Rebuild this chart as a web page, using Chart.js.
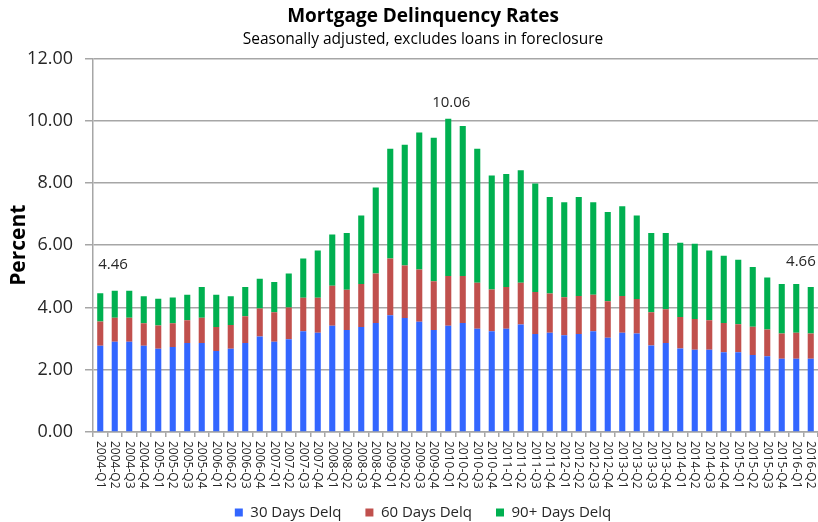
<!DOCTYPE html>
<html><head><meta charset="utf-8">
<script src="https://cdn.jsdelivr.net/npm/chart.js@4.4.1/dist/chart.umd.min.js"></script>
<style>html,body{margin:0;padding:0;background:#fff;}#wrap{width:818px;height:522px;}</style>
</head><body><div id="wrap"><canvas id="c" width="818" height="522"></canvas></div>
<script>
const quarters = [
 "2004-Q1","2004-Q2","2004-Q3","2004-Q4","2005-Q1","2005-Q2","2005-Q3","2005-Q4",
 "2006-Q1","2006-Q2","2006-Q3","2006-Q4","2007-Q1","2007-Q2","2007-Q3","2007-Q4",
 "2008-Q1","2008-Q2","2008-Q3","2008-Q4","2009-Q1","2009-Q2","2009-Q3","2009-Q4",
 "2010-Q1","2010-Q2","2010-Q3","2010-Q4","2011-Q1","2011-Q2","2011-Q3","2011-Q4",
 "2012-Q1","2012-Q2","2012-Q3","2012-Q4","2013-Q1","2013-Q2","2013-Q3","2013-Q4",
 "2014-Q1","2014-Q2","2014-Q3","2014-Q4","2015-Q1","2015-Q2","2015-Q3","2015-Q4",
 "2016-Q1","2016-Q2"];
const delq30 = [2.77,2.90,2.90,2.77,2.67,2.73,2.86,2.86,2.60,2.67,2.86,3.07,2.90,2.98,3.24,3.19,3.41,3.28,3.37,3.50,3.75,3.66,3.54,3.28,3.41,3.50,3.32,3.24,3.32,3.45,3.15,3.19,3.11,3.15,3.24,3.03,3.19,3.16,2.78,2.86,2.68,2.64,2.64,2.56,2.56,2.47,2.43,2.35,2.35,2.35];
const delq60 = [0.78,0.77,0.77,0.72,0.75,0.76,0.73,0.81,0.77,0.77,0.86,0.90,0.95,1.02,1.07,1.12,1.29,1.29,1.38,1.59,1.82,1.69,1.68,1.56,1.60,1.51,1.47,1.34,1.34,1.34,1.35,1.26,1.22,1.22,1.17,1.17,1.18,1.11,1.07,1.08,1.01,0.99,0.95,0.94,0.90,0.91,0.86,0.81,0.84,0.81];
const delq90 = [0.91,0.87,0.87,0.87,0.86,0.83,0.82,0.99,1.04,0.92,0.94,0.95,0.97,1.09,1.26,1.52,1.64,1.82,2.20,2.76,3.53,3.88,4.40,4.61,5.05,4.82,4.31,3.66,3.63,3.62,3.48,3.10,3.05,3.18,2.97,2.87,2.88,2.68,2.54,2.45,2.39,2.42,2.24,2.16,2.07,1.92,1.67,1.59,1.56,1.50];
const seriesNames = ["30 Days Delq","60 Days Delq","90+ Days Delq"];
const yTicks = [0,2,4,6,8,10,12];
const annotatedQuarters = ["2004-Q1","2010-Q1","2016-Q2"];

const FONT = '"Open Sans", sans-serif';
const GRID = '#a6a6a6';
const TEXT = '#262626';

const xLabelPlugin = {
  id: 'xLabels',
  afterDraw(chart) {
    const xs = chart.scales.x, ctx = chart.ctx;
    ctx.save();
    ctx.font = '12px ' + FONT;
    ctx.fillStyle = TEXT;
    ctx.textAlign = 'left';
    ctx.textBaseline = 'middle';
    quarters.forEach((q, i) => {
      ctx.save();
      ctx.translate(xs.getPixelForTick(i), xs.top + 9);
      ctx.rotate(Math.PI / 2);
      ctx.fillText(q, 0, 0);
      ctx.restore();
    });
    ctx.restore();
  }
};

const totalLabelPlugin = {
  id: 'totals',
  afterDatasetsDraw(chart) {
    const xs = chart.scales.x, ys = chart.scales.y, ctx = chart.ctx;
    const place = [
      {align: 'left', dx: -2, dy: -28},
      {align: 'center', dx: 3, dy: -16},
      {align: 'right', dx: 5, dy: -25}
    ];
    ctx.save();
    ctx.font = '15px ' + FONT;
    ctx.fillStyle = TEXT;
    ctx.textBaseline = 'middle';
    annotatedQuarters.forEach((q, k) => {
      const i = quarters.indexOf(q);
      const total = delq30[i] + delq60[i] + delq90[i];
      const p = place[k];
      ctx.textAlign = p.align;
      ctx.fillText(total.toFixed(2), xs.getPixelForValue(i) + p.dx, ys.getPixelForValue(total) + p.dy);
    });
    ctx.restore();
  }
};

new Chart(document.getElementById('c'), {
  type: 'bar',
  data: {
    labels: quarters,
    datasets: [
      {label: seriesNames[0], data: delq30, backgroundColor: '#3366ff'},
      {label: seriesNames[1], data: delq60, backgroundColor: '#c0504d'},
      {label: seriesNames[2], data: delq90, backgroundColor: '#00b050'}
    ]
  },
  options: {
    responsive: false,
    devicePixelRatio: 1,
    animation: false,
    datasets: {bar: {categoryPercentage: 1, barPercentage: 0.42}},
    layout: {padding: {left: 28, right: 0, top: 0, bottom: -8}},
    plugins: {
      tooltip: {enabled: false},
      title: {
        display: true, text: 'Mortgage Delinquency Rates', color: '#000',
        font: {family: FONT, size: 19, weight: 'bold'}, padding: {top: 5, bottom: 0}
      },
      subtitle: {
        display: true, text: 'Seasonally adjusted, excludes loans in foreclosure', color: '#000',
        font: {family: FONT, size: 15.5}, padding: {top: 2, bottom: 10}
      },
      legend: {
        position: 'bottom',
        labels: {
          boxWidth: 8, boxHeight: 8, padding: 24, color: TEXT,
          font: {family: FONT, size: 15}
        }
      }
    },
    scales: {
      x: {
        stacked: true,
        grid: {display: true, drawOnChartArea: false, offset: true, tickLength: 5, color: GRID, lineWidth: 1.5},
        border: {display: true, color: GRID, width: 1.5},
        ticks: {display: false},
        afterFit(s) { s.height = 49; }
      },
      y: {
        stacked: true,
        min: yTicks[0], max: yTicks[yTicks.length - 1],
        afterBuildTicks(s) { s.ticks = yTicks.map(v => ({value: v})); },
        ticks: {
          color: TEXT, padding: 12,
          font: {family: FONT, size: 18},
          callback: v => Number(v).toFixed(2)
        },
        grid: {color: GRID, lineWidth: 1.5, tickLength: 8},
        border: {display: true, color: GRID, width: 1.5},
        title: {
          display: true, text: 'Percent', color: '#000',
          font: {family: FONT, size: 21, weight: 'bold'}, padding: {top: -22, bottom: 0}
        },
        afterFit(s) { s.width = 65; }
      }
    }
  },
  plugins: [xLabelPlugin, totalLabelPlugin]
});
</script></body></html>
